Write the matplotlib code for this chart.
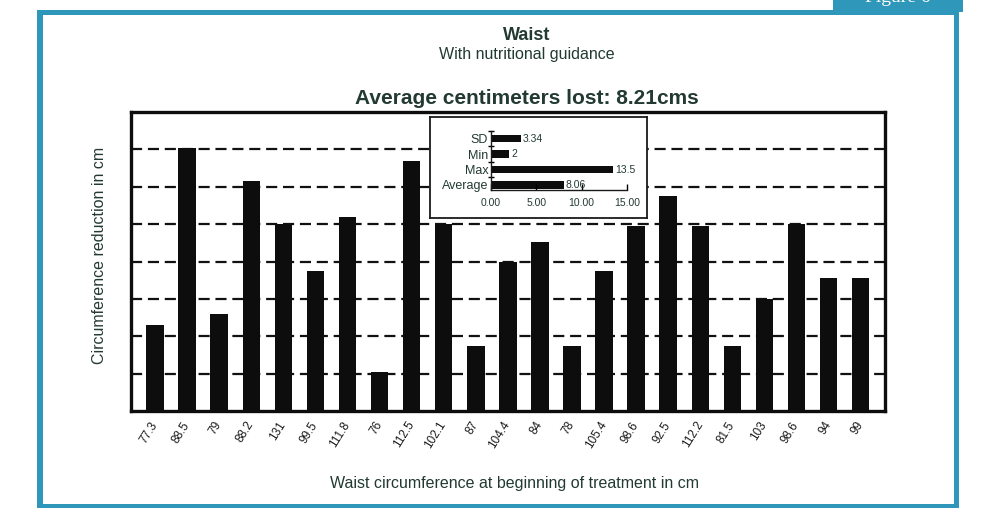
import matplotlib
matplotlib.use('Agg')
import matplotlib.pyplot as plt
import matplotlib.transforms as mtransforms
from matplotlib.patches import Rectangle
import numpy as np

plt.rcParams['font.family'] = ['Liberation Sans', 'DejaVu Sans']

# starting waist circumference (x tick labels) and reduction in cm (bar heights)
start_waist = ['77.3', '88.5', '79', '88.2', '131', '99.5', '111.8', '76', '112.5',
               '102.1', '87', '104.4', '84', '78', '105.4', '98.6', '92.5', '112.2',
               '81.5', '103', '98.6', '94', '99']
reduction = [4.6, 14.1, 5.2, 12.3, 10.0, 7.5, 10.4, 2.1, 13.4, 10.0, 3.5, 8.0, 9.05,
             3.5, 7.5, 9.9, 11.5, 9.9, 3.5, 6.0, 10.0, 7.1, 7.1]

# summary statistics in the inset
stat_names = ['Average', 'Max', 'Min', 'SD']
stat_values = [8.06, 13.5, 2, 3.34]
stat_labels = ['8.06', '13.5', '2', '3.34']
stat_ticks = [0, 5, 10, 15]

W, H = 984, 508
BLUE = '#2f97ba'
TXT = '#223a31'

def box(x0, y0, x1, y1):
    # pixel box (top-left origin) -> figure fraction [l, b, w, h]
    return [x0 / W, 1 - y1 / H, (x1 - x0) / W, (y1 - y0) / H]

fig = plt.figure(figsize=(W / 100, H / 100), dpi=100)

# blue page frame
for (x0, y0, x1, y1) in [(37, 10, 43, 508), (37, 10, 959, 15), (954, 10, 959, 508),
                         (37, 504, 959, 508), (833, 0, 963, 12)]:
    fig.add_artist(Rectangle((x0 / W, 1 - y1 / H), (x1 - x0) / W, (y1 - y0) / H,
                             transform=fig.transFigure, color=BLUE, lw=0))
fig.text(898 / W, 1 + 2 / H, 'Figure 6', color='white', fontsize=14,
         ha='center', va='center', family='Liberation Serif')

# titles
fig.text(527 / W, 1 - 36 / H, 'Waist', fontsize=13, fontweight='bold', color=TXT,
         ha='center', va='center')
fig.text(527 / W, 1 - 55 / H, 'With nutritional guidance', fontsize=11.5, color=TXT,
         ha='center', va='center')
fig.text(527 / W, 1 - 99 / H, 'Average centimeters lost: 8.21cms', fontsize=15,
         fontweight='bold', color=TXT, ha='center', va='center')

# main bar chart
ax = fig.add_axes(box(131, 112, 885, 411))
x = np.arange(len(reduction))
ax.bar(x, reduction, width=0.545, color='#0d0d0d', zorder=3)
ax.set_xlim(-0.75, len(reduction) - 0.24)
ax.set_ylim(0, 16)
for yv in range(2, 16, 2):
    ax.axhline(yv, color='#111111', lw=1.6, linestyle=(0, (5, 2.6)), zorder=1)
ax.set_yticks([])
ax.set_xticks(x)
ax.set_xticklabels(start_waist, rotation=58, ha='right', va='top', fontsize=8.5,
                   color='#1a1a1a')
ax.tick_params(axis='x', length=0, pad=6)
offset = mtransforms.ScaledTranslation(5 / 100, 0, fig.dpi_scale_trans)
for lab in ax.get_xticklabels():
    lab.set_transform(lab.get_transform() + offset)
for s in ax.spines.values():
    s.set_linewidth(2.4)
    s.set_color('#0d0d0d')
ax.set_xlabel('Waist circumference at beginning of treatment in cm', fontsize=11.5,
              color=TXT, labelpad=0)
ax.xaxis.set_label_coords(514 / W, 1 - 476 / H, transform=fig.transFigure)
fig.text(100 / W, 1 - 255 / H, 'Circumference reduction in cm', fontsize=11.5,
         color=TXT, rotation=90, ha='center', va='center')

# inset frame
fr = fig.add_axes(box(430, 117, 647, 218))
fr.set_xticks([])
fr.set_yticks([])
fr.set_facecolor('white')
fr.set_zorder(5)
for s in fr.spines.values():
    s.set_linewidth(1.3)
    s.set_color('#1a1a1a')

# inset stats bar chart
ins = fig.add_axes(box(491, 131, 627, 190))
ins.set_zorder(6)
ins.patch.set_alpha(0)
yy = np.arange(len(stat_names))
ins.barh(yy, stat_values, height=0.48, color='#0d0d0d')
for yv, v, t in zip(yy, stat_values, stat_labels):
    ins.text(v + 0.2, yv, t, fontsize=7.5, color=TXT, va='center', ha='left')
ins.set_xlim(0, 15)
ins.set_ylim(-0.33, 3.5)
ins.spines['top'].set_visible(False)
ins.spines['right'].set_visible(False)
for s in ['left', 'bottom']:
    ins.spines[s].set_linewidth(1.0)
    ins.spines[s].set_color('#1a1a1a')
ins.set_yticks(yy)
ins.set_yticklabels(stat_names, fontsize=9, color=TXT)
ins.set_yticks([0.5, 1.5, 2.5, 3.5], minor=True)
ins.tick_params(axis='y', which='major', length=0, pad=2)
ins.tick_params(axis='y', which='minor', length=5, direction='inout', width=1.0)
ins.set_xticks(stat_ticks)
ins.set_xticklabels(['%.2f' % v for v in stat_ticks], fontsize=7.5, color=TXT)
ins.tick_params(axis='x', length=4, direction='in', width=1.0, pad=6)

fig.savefig('out.png', dpi=100)
